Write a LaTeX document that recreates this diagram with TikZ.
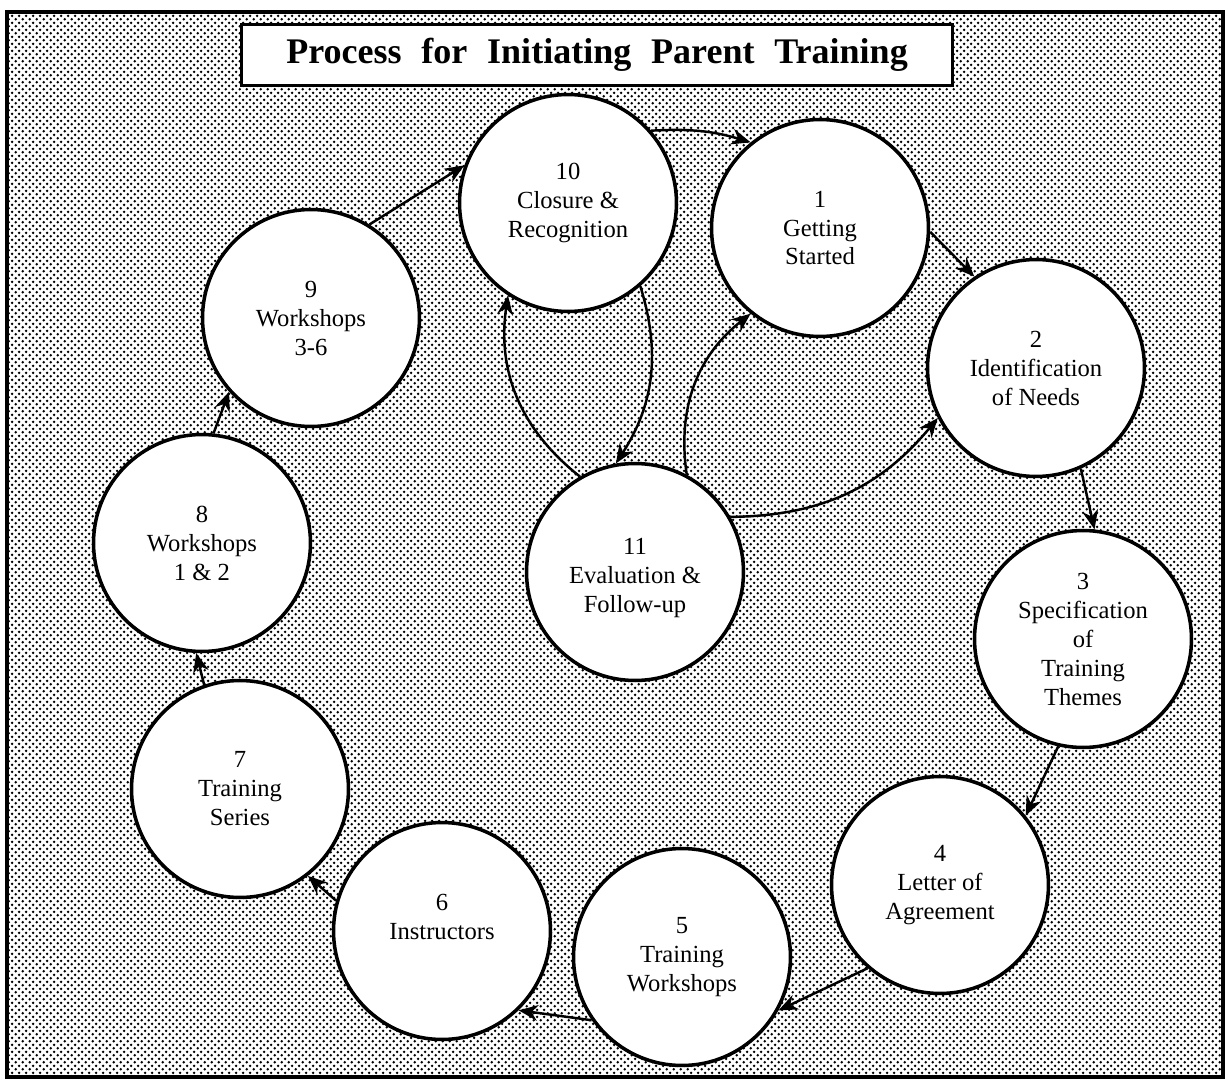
\documentclass[tikz,border=0pt]{standalone}
\usepackage{fontspec}
\setmainfont{Liberation Serif}
\newfontfamily\titlefont[WordSpace=2.2]{Liberation Serif}
\usetikzlibrary{arrows.meta,patterns}
\pgfdeclarepatternformonly{stipple}{\pgfpointorigin}{\pgfpoint{4.2pt}{4.2pt}}{\pgfpoint{4.2pt}{4.2pt}}{%
  \pgfpathcircle{\pgfpoint{1.05pt}{1.05pt}}{0.85pt}
  \pgfpathcircle{\pgfpoint{3.15pt}{3.15pt}}{0.85pt}
  \pgfusepath{fill}}

\begin{document}
\begin{tikzpicture}[x=0.02cm, y=-0.02cm,
  stage/.style={circle, draw, fill=white, line width=2pt, minimum size=4.34cm, inner sep=0pt, align=center, font=\fontsize{14pt}{16.5pt}\selectfont},
  flow/.style={-{Stealth[length=11pt, width=9pt]}, line width=1.4pt}]
\useasboundingbox (0,0) rectangle (1228,1085);
\draw[line width=2.3pt, pattern=stipple] (7,12) rectangle (1223,1077);
\node[draw, line width=2pt, fill=white, minimum width=14.22cm, minimum height=1.22cm, font=\titlefont\bfseries\fontsize{20.5pt}{24pt}\selectfont] (title) at (597,55) {Process for Initiating Parent Training};

\node[stage] (start) at (820,228) {1\\Getting\\Started};
\node[stage] (needs) at (1036,368) {2\\Identification\\of Needs};
\node[stage] (themes) at (1083,639) {3\\Specification\\of\\Training\\Themes};
\node[stage] (letter) at (940,885) {4\\Letter of\\Agreement};
\node[stage] (trainws) at (682,957) {5\\Training\\Workshops};
\node[stage] (instr) at (442,931) {6\\Instructors\\\mbox{}};
\node[stage] (series) at (240,789) {7\\Training\\Series};
\node[stage] (ws12) at (202,543) {8\\Workshops\\1 \& 2};
\node[stage] (ws36) at (311,318) {9\\Workshops\\3-6};
\node[stage] (closure) at (568,203) {10\\Closure \&\\Recognition};
\node[stage] (evalu) at (635,572) {\mbox{}\\11\\Evaluation \&\\Follow-up};

\draw[flow] (closure.41) to[bend left=10] (start.129);
\draw[flow] (start.-2) -- (needs.124);
\draw[flow] (needs.-66) -- (themes.84);
\draw[flow] (themes.-103) -- (letter.39);
\draw[flow] (letter.-131) -- (trainws.-29);
\draw[flow] (trainws.-145) -- (instr.-46);
\draw[flow] (instr.164) -- (series.-52);
\draw[flow] (series.109) -- (ws12.-93);
\draw[flow] (ws12.84) -- (ws36.-138);
\draw[flow] (ws36.58) -- (closure.160);
\draw[flow] (evalu.120) to[bend left=30] (closure.-123);
\draw[flow] (closure.-49) to[bend left=25] (evalu.100);
\draw[flow] (evalu.62) to[bend left=30] (start.-129);
\draw[flow] (evalu.30) to[bend right=25] (needs.-153);
\end{tikzpicture}
\end{document}
